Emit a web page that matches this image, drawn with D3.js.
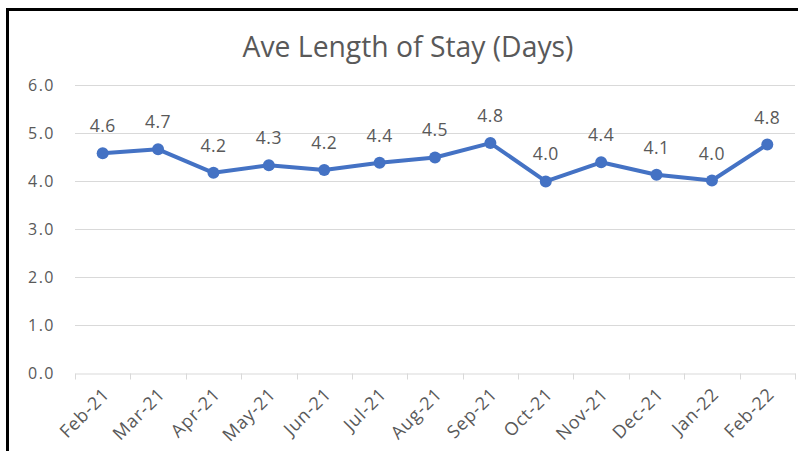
<!DOCTYPE html>
<html>
<head>
<meta charset="utf-8">
<script src="https://cdn.jsdelivr.net/npm/d3@7"></script>
<style>
  body { margin: 0; background: #fff; }
  svg text { font-family: "Open Sans", sans-serif; fill: #595959; }
</style>
</head>
<body>
<svg id="chart" width="798" height="451"></svg>
<script>
const months = ['Feb-21', 'Mar-21', 'Apr-21', 'May-21', 'Jun-21', 'Jul-21', 'Aug-21',
                'Sep-21', 'Oct-21', 'Nov-21', 'Dec-21', 'Jan-22', 'Feb-22']
const stay = [4.58, 4.66, 4.17, 4.33, 4.23, 4.38, 4.49, 4.79, 3.99, 4.39, 4.13, 4.01, 4.76]
const yTicks = [0, 1, 2, 3, 4, 5, 6]

const svg = d3.select('#chart')
const plotLeft = 75, plotRight = 795, plotTop = 85, plotBottom = 373

// frame
svg.append('path')
    .attr('d', 'M7.5,460 V9.5 H810')
    .attr('fill', 'none')
    .attr('stroke', '#000')
    .attr('stroke-width', 3)

const x = d3.scaleBand().domain(months).range([plotLeft, plotRight])
const y = d3.scaleLinear().domain([0, 6]).range([plotBottom, plotTop])

svg.append('text')
    .attr('x', 408)
    .attr('y', 57)
    .attr('text-anchor', 'middle')
    .style('font-size', '28.3px')
    .text('Ave Length of Stay (Days)')

// gridlines
svg.append('g')
    .selectAll('line')
    .data(yTicks.slice(1))
    .enter()
    .append('line')
    .attr('x1', plotLeft).attr('x2', plotRight)
    .attr('y1', d => y(d) + 0.5).attr('y2', d => y(d) + 0.5)
    .attr('stroke', '#d9d9d9')

const yAxis = svg.append('g')
    .attr('transform', `translate(${plotLeft},0)`)
    .call(d3.axisLeft(y).tickValues(yTicks).tickFormat(d3.format('.1f')).tickSize(0).tickPadding(20))
yAxis.select('.domain').remove()
yAxis.selectAll('text')
    .style('font-size', '16px')
    .style('letter-spacing', '1.5px')

const xAxis = svg.append('g')
    .attr('transform', `translate(0,${plotBottom + 0.5})`)
    .call(d3.axisBottom(x).tickSize(0))
xAxis.select('.domain').attr('stroke', '#d9d9d9')
xAxis.selectAll('.tick line').remove()
// category boundary ticks
xAxis.selectAll('line.bound')
    .data(months.concat(['end']))
    .enter()
    .append('line')
    .attr('class', 'bound')
    .attr('x1', (d, i) => Math.round(plotLeft + i * x.step()) + 0.5)
    .attr('x2', (d, i) => Math.round(plotLeft + i * x.step()) + 0.5)
    .attr('y1', 0).attr('y2', 6)
    .attr('stroke', '#d9d9d9')
xAxis.selectAll('.tick text')
    .style('font-size', '18px')
    .style('letter-spacing', '0.8px')
    .attr('text-anchor', 'end')
    .attr('dy', 0)
    .attr('y', 0)
    .attr('transform', 'translate(8,22) rotate(-45)')

const line = d3.line()
    .x((d, i) => x(months[i]) + x.bandwidth() / 2)
    .y(d => y(d))

svg.append('path')
    .datum(stay)
    .attr('d', line)
    .attr('fill', 'none')
    .attr('stroke', '#4472c4')
    .attr('stroke-width', 4)
    .attr('stroke-linejoin', 'round')

svg.selectAll('circle')
    .data(stay)
    .enter()
    .append('circle')
    .attr('cx', (d, i) => x(months[i]) + x.bandwidth() / 2)
    .attr('cy', d => y(d))
    .attr('r', 6)
    .attr('fill', '#4472c4')

svg.selectAll('text.lbl')
    .data(stay)
    .enter()
    .append('text')
    .attr('class', 'lbl')
    .attr('x', (d, i) => x(months[i]) + x.bandwidth() / 2)
    .attr('y', d => y(d) - 21)
    .attr('text-anchor', 'middle')
    .style('font-size', '17.5px')
    .style('letter-spacing', '0.5px')
    .text(d => d.toFixed(1))
</script>
</body>
</html>
